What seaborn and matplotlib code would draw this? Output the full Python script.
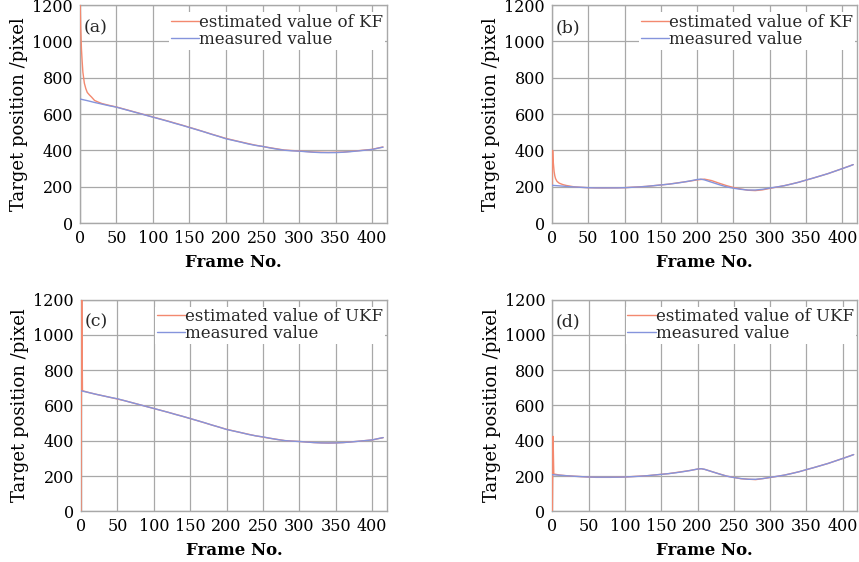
import pandas as pd
import seaborn as sns
from matplotlib import pyplot as plt

# frame numbers shared by the measured tracks
frames = [0, 10, 20, 30, 40, 50, 60, 70, 80, 90, 100, 110, 120, 130, 140, 150,
          160, 170, 180, 190, 200, 210, 220, 230, 240, 250, 260, 270, 280, 290,
          300, 310, 320, 330, 340, 350, 360, 370, 380, 390, 400, 410, 415]

# target 1 (panels a, c)
measured_1 = [683, 674, 664, 655, 646, 638, 627, 616, 605, 594, 583, 572, 561,
              549, 538, 526, 514, 502, 489, 477, 464, 455, 446, 436, 428, 422,
              414, 407, 401, 398, 396, 393, 390, 388, 388, 388, 390, 393, 397,
              401, 405, 414, 418]

# target 2 (panels b, d)
frames_2 = [0, 10, 20, 30, 40, 50, 60, 70, 80, 90, 100, 110, 120, 130, 140, 150,
            160, 170, 180, 190, 200, 205, 210, 220, 230, 240, 250, 260, 270, 280,
            290, 300, 310, 320, 330, 340, 350, 360, 370, 380, 390, 400, 410, 415]
measured_2 = [208, 205, 202, 199, 197, 195, 194, 194, 194, 194, 195, 197, 199,
              202, 206, 210, 214, 219, 225, 232, 240, 242, 238, 225, 212, 200,
              192, 186, 182, 182, 186, 193, 199, 206, 215, 225, 237, 248, 260,
              272, 286, 300, 314, 322]

# KF estimates
kf_frames_1 = [0, 1, 2, 3, 4, 6, 8, 10, 13, 16, 20, 25, 30, 40, 50, 60, 70, 80,
               90, 100, 120, 140, 160, 180, 200, 220, 240, 260, 280, 300, 320,
               340, 360, 380, 400, 415]
kf_1 = [1250, 1080, 960, 890, 830, 770, 740, 719, 705, 693, 675, 666, 658, 648,
        639, 628, 617, 606, 595, 584, 562, 539, 515, 490, 466, 447, 429, 415,
        402, 397, 391, 389, 391, 398, 406, 419]

kf_frames_2 = [0, 1, 2, 3, 4, 5, 7, 10, 15, 20, 30, 40, 50, 70, 100, 130, 160,
               190, 200, 210, 220, 230, 240, 250, 260, 270, 280, 290, 300, 320,
               340, 360, 380, 400, 415]
kf_2 = [208, 400, 330, 285, 260, 245, 230, 220, 212, 207, 200, 197, 195, 194,
        195, 202, 214, 231, 238, 242, 234, 220, 207, 196, 188, 181, 179, 183,
        191, 206, 225, 248, 272, 300, 322]

# UKF estimates
ukf_frames_1 = [0, 1, 2, 10, 20, 40, 60, 80, 100, 120, 140, 160, 180, 200, 220,
                240, 260, 280, 300, 320, 340, 360, 380, 400, 415]
ukf_1 = [0, 1300, 684, 674, 664, 646, 627, 605, 583, 561, 538, 514, 489, 465,
         446, 428, 414, 401, 396, 390, 387, 390, 397, 405, 418]

ukf_frames_2 = [0, 1, 2, 10, 20, 40, 60, 80, 100, 130, 160, 190, 200, 205, 210,
                220, 240, 260, 280, 300, 320, 340, 360, 380, 400, 415]
ukf_2 = [0, 425, 212, 206, 202, 197, 193, 193, 195, 202, 214, 232, 240, 242,
         238, 225, 200, 185, 180, 192, 206, 225, 248, 272, 300, 322]

panels = [
    ("(a)", "estimated value of KF", kf_frames_1, kf_1, frames, measured_1),
    ("(b)", "estimated value of KF", kf_frames_2, kf_2, frames_2, measured_2),
    ("(c)", "estimated value of UKF", ukf_frames_1, ukf_1, frames, measured_1),
    ("(d)", "estimated value of UKF", ukf_frames_2, ukf_2, frames_2, measured_2),
]

est_color = "#f3896f"
meas_color = "#8594dc"
grid_color = "#a8a8a8"

sns.set_style("whitegrid")
plt.rcParams["font.family"] = ["DejaVu Serif"]

fig = plt.figure(figsize=(8.59, 5.62), dpi=100)
boxes = [
    [0.0931, 0.603, 0.357, 0.388],
    [0.6425, 0.603, 0.355, 0.388],
    [0.0943, 0.090, 0.356, 0.377],
    [0.6430, 0.090, 0.355, 0.377],
]

for box, (tag, est_label, ef, ev, mf, mv) in zip(boxes, panels):
    ax = fig.add_axes(box)
    sns.lineplot(x=ef, y=ev, ax=ax, color=est_color, linewidth=1.0,
                 label=est_label, zorder=3)
    sns.lineplot(x=mf, y=mv, ax=ax, color=meas_color, linewidth=1.0,
                 label="measured value", zorder=3)
    ax.set_xlim(0, 420)
    ax.set_ylim(0, 1200)
    ax.set_xticks(range(0, 401, 50))
    ax.set_yticks(range(0, 1201, 200))
    ax.grid(True, color=grid_color, linewidth=0.9)
    for s in ax.spines.values():
        s.set_color(grid_color)
        s.set_linewidth(1.0)
    ax.tick_params(axis="both", labelsize=11.5, labelcolor="black", length=0)
    ax.tick_params(axis="x", pad=5)
    ax.tick_params(axis="y", pad=5)
    ax.set_xlabel("Frame No.", fontsize=12, fontweight="bold", labelpad=5,
                  color="black")
    ax.set_ylabel("Target position /pixel", fontsize=13, labelpad=3,
                  color="black")
    ax.text(0.012, 0.935, tag, transform=ax.transAxes, fontsize=12.5,
            va="top", ha="left")
    leg = ax.legend(loc="upper right", bbox_to_anchor=(1.0, 0.975),
                    fontsize=12, handlelength=1.7,
                    handletextpad=0.0, labelspacing=0.0, borderpad=0.1,
                    borderaxespad=0.1, frameon=True, fancybox=False)
    leg.set_zorder(5)
    leg.get_frame().set_facecolor("white")
    leg.get_frame().set_edgecolor("none")
    leg.get_frame().set_alpha(1.0)

plt.savefig("out.png", dpi=100)
plt.close()
